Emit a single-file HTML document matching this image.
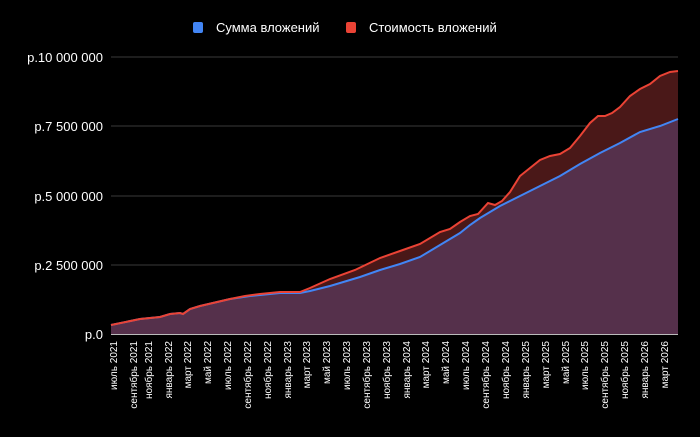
<!DOCTYPE html>
<html><head><meta charset="utf-8"><style>
body{margin:0;background:#000;width:700px;height:432px;overflow:hidden;font-family:"Liberation Sans",sans-serif}
</style></head><body>
<svg width="700" height="432" xmlns="http://www.w3.org/2000/svg" font-family="Liberation Sans, sans-serif">
<rect width="700" height="432" fill="#000"/>
<rect x="193" y="22" width="10" height="11" rx="2" fill="#4285f4"/>
<text x="216" y="32" fill="#fff" font-size="13">Сумма вложений</text>
<rect x="346" y="22" width="10" height="11" rx="2" fill="#ea4335"/>
<text x="369" y="32" fill="#fff" font-size="13">Стоимость вложений</text>
<g stroke="#3a3a3a" stroke-width="1">
<line x1="111" y1="57" x2="678" y2="57"/><line x1="111" y1="126" x2="678" y2="126"/>
<line x1="111" y1="196" x2="678" y2="196"/><line x1="111" y1="265" x2="678" y2="265"/>
</g>
<g fill="#fff" font-size="13" text-anchor="end">
<text x="103" y="62">р.10 000 000</text><text x="103" y="131">р.7 500 000</text>
<text x="103" y="201">р.5 000 000</text><text x="103" y="270">р.2 500 000</text>
<text x="103" y="339">р.0</text>
</g>
<polygon fill="#4a1818" points="111,334 111,325 140,319 160,317 170,314 180,313 183,314 190,309 200,306 230,299 245,296 260,294 280,292 300,292 310,288 330,279 355,270 380,258 400,251 420,244 440,232 450,229 460,222 470,216 478,214 488,203 495,205 502,201 510,192 520,176 530,168 540,160 550,156 560,154 570,148 580,136 590,123 598,116 605,116 612,113 620,107 630,96 640,89 650,84 660,76 670,72 678,71 678,334"/>
<polygon fill="#55304b" points="111,334 111,325 140,319 160,317 170,314 180,313 183,314 190,309 200,306 230,299 250,296 280,293 300,293 310,291 330,286 360,277 380,270 400,264 420,257 440,245 460,233 470,225 480,218 500,206 520,196 540,186 560,176 580,164 600,153 620,143 640,132 660,126 678,119 678,334"/>
<polyline fill="none" stroke="#4285f4" stroke-width="2" points="111,325 140,319 160,317 170,314 180,313 183,314 190,309 200,306 230,299 250,296 280,293 300,293 310,291 330,286 360,277 380,270 400,264 420,257 440,245 460,233 470,225 480,218 500,206 520,196 540,186 560,176 580,164 600,153 620,143 640,132 660,126 678,119"/>
<polyline fill="none" stroke="#ea4335" stroke-width="2" points="111,325 140,319 160,317 170,314 180,313 183,314 190,309 200,306 230,299 245,296 260,294 280,292 300,292 310,288 330,279 355,270 380,258 400,251 420,244 440,232 450,229 460,222 470,216 478,214 488,203 495,205 502,201 510,192 520,176 530,168 540,160 550,156 560,154 570,148 580,136 590,123 598,116 605,116 612,113 620,107 630,96 640,89 650,84 660,76 670,72 678,71"/>
<line x1="111" y1="334.5" x2="678" y2="334.5" stroke="#bbb" stroke-width="1"/>
<g fill="#fff" font-size="10" text-anchor="end">
<text transform="translate(117,341) rotate(-90)">июль 2021</text>
<text transform="translate(137,341) rotate(-90)">сентябрь 2021</text>
<text transform="translate(152,341) rotate(-90)">ноябрь 2021</text>
<text transform="translate(172,341) rotate(-90)">январь 2022</text>
<text transform="translate(191,341) rotate(-90)">март 2022</text>
<text transform="translate(211,341) rotate(-90)">май 2022</text>
<text transform="translate(231,341) rotate(-90)">июль 2022</text>
<text transform="translate(251,341) rotate(-90)">сентябрь 2022</text>
<text transform="translate(271,341) rotate(-90)">ноябрь 2022</text>
<text transform="translate(291,341) rotate(-90)">январь 2023</text>
<text transform="translate(310,341) rotate(-90)">март 2023</text>
<text transform="translate(330,341) rotate(-90)">май 2023</text>
<text transform="translate(350,341) rotate(-90)">июль 2023</text>
<text transform="translate(370,341) rotate(-90)">сентябрь 2023</text>
<text transform="translate(390,341) rotate(-90)">ноябрь 2023</text>
<text transform="translate(410,341) rotate(-90)">январь 2024</text>
<text transform="translate(429,341) rotate(-90)">март 2024</text>
<text transform="translate(449,341) rotate(-90)">май 2024</text>
<text transform="translate(469,341) rotate(-90)">июль 2024</text>
<text transform="translate(489,341) rotate(-90)">сентябрь 2024</text>
<text transform="translate(509,341) rotate(-90)">ноябрь 2024</text>
<text transform="translate(529,341) rotate(-90)">январь 2025</text>
<text transform="translate(549,341) rotate(-90)">март 2025</text>
<text transform="translate(569,341) rotate(-90)">май 2025</text>
<text transform="translate(588,341) rotate(-90)">июль 2025</text>
<text transform="translate(608,341) rotate(-90)">сентябрь 2025</text>
<text transform="translate(628,341) rotate(-90)">ноябрь 2025</text>
<text transform="translate(648,341) rotate(-90)">январь 2026</text>
<text transform="translate(668,341) rotate(-90)">март 2026</text>
</g>
</svg>
</body></html>
